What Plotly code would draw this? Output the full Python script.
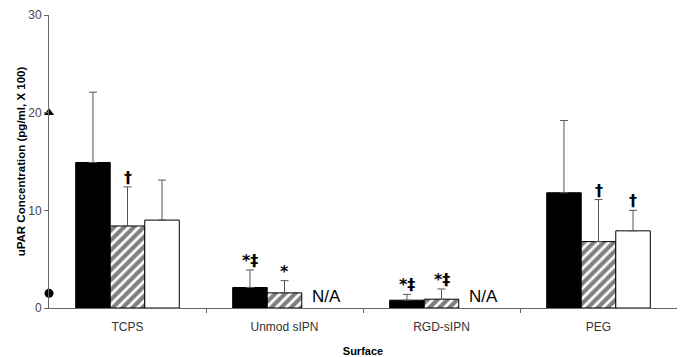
import plotly.graph_objects as go

categories = ["TCPS", "Unmod sIPN", "RGD-sIPN", "PEG"]
solid_vals = [14.9, 2.1, 0.8, 11.8]
solid_err = [7.2, 1.8, 0.6, 7.4]
hatch_vals = [8.4, 1.55, 0.9, 6.8]
hatch_err = [4.0, 1.25, 1.05, 4.3]
white_vals = [9.0, None, None, 7.9]
white_err = [4.1, None, None, 2.1]
ref_y = [20, 1.5]
ref_symbols = ["triangle-up", "circle"]
# annotations: (category index, series offset index, text, y)
marks = [
    (0, 1, "†", 12.4),
    (1, 0, "*‡", 3.9),
    (1, 1, "*", 2.8),
    (2, 0, "*‡", 1.4),
    (2, 1, "*‡", 1.95),
    (3, 1, "†", 11.1),
    (3, 2, "†", 10.0),
]
na_cats = [1, 2]

xs = list(range(len(categories)))
err_color = "#555555"

fig = go.Figure()
fig.add_trace(go.Bar(
    x=xs, y=solid_vals, marker=dict(color="black", line=dict(color="black", width=1)),
    error_y=dict(type="data", array=solid_err, arrayminus=[0]*4, color=err_color, thickness=1, width=4),
    showlegend=False))
fig.add_trace(go.Bar(
    x=xs, y=hatch_vals,
    marker=dict(color="white", line=dict(color="black", width=1),
                pattern=dict(shape="/", fgcolor="black", bgcolor="white", size=7, solidity=0.6)),
    error_y=dict(type="data", array=hatch_err, arrayminus=[0]*4, color=err_color, thickness=1, width=4),
    showlegend=False))
fig.add_trace(go.Bar(
    x=xs, y=white_vals, marker=dict(color="white", line=dict(color="black", width=1)),
    error_y=dict(type="data", array=white_err, arrayminus=[0]*4, color=err_color, thickness=1, width=4),
    showlegend=False))
fig.add_trace(go.Scatter(
    x=[-0.5]*len(ref_y), y=ref_y, mode="markers", cliponaxis=False,
    marker=dict(symbol=ref_symbols, size=9, color="black"), showlegend=False))

bw = 0.66 / 3
for ci, si, txt, yv in marks:
    fig.add_annotation(x=ci + (si - 1) * bw, y=yv, text="<b>" + txt + "</b>", showarrow=False,
                       yanchor="bottom", yshift=-2,
                       font=dict(size=16, color="black", family="DejaVu Sans"))
for ci in na_cats:
    fig.add_annotation(x=ci + bw + 0.05, y=1.2, text="N/A", showarrow=False,
                       yanchor="middle", font=dict(size=17, color="black", family="Liberation Sans"))

fig.update_layout(
    width=677, height=349,
    margin=dict(l=41, r=8, t=7, b=49),
    plot_bgcolor="white", paper_bgcolor="white",
    barmode="group", bargap=0.34, bargroupgap=0,
    font=dict(family="Liberation Sans", color="#333333"),
    xaxis=dict(range=[-0.5, 3.5], tickvals=xs, ticktext=categories, ticks="",
               automargin=False,
               showline=True, linecolor="#666666", linewidth=1, showgrid=False, zeroline=False,
               tickfont=dict(size=12, color="#333333"), ticklabelstandoff=8,
               minor=dict(tickmode="array", tickvals=[0.5, 1.5, 2.5, 3.5], ticks="outside",
                          ticklen=4, tickcolor="#666666", showgrid=False),
               title=dict(text="<b>Surface</b>", font=dict(size=11, color="black"), standoff=13)),
    yaxis=dict(range=[0, 30], tickvals=[0, 10, 20, 30], ticks="outside", ticklen=4,
               automargin=False,
               tickcolor="#666666", showline=True, linecolor="#666666", linewidth=1,
               showgrid=False, zeroline=False, tickfont=dict(size=12, color="#444444"),
               title=dict(text="<b>uPAR Concentration (pg/ml, X 100)</b>",
                          font=dict(size=11.5, color="black"), standoff=0)),
)

fig.write_html("out.html")
